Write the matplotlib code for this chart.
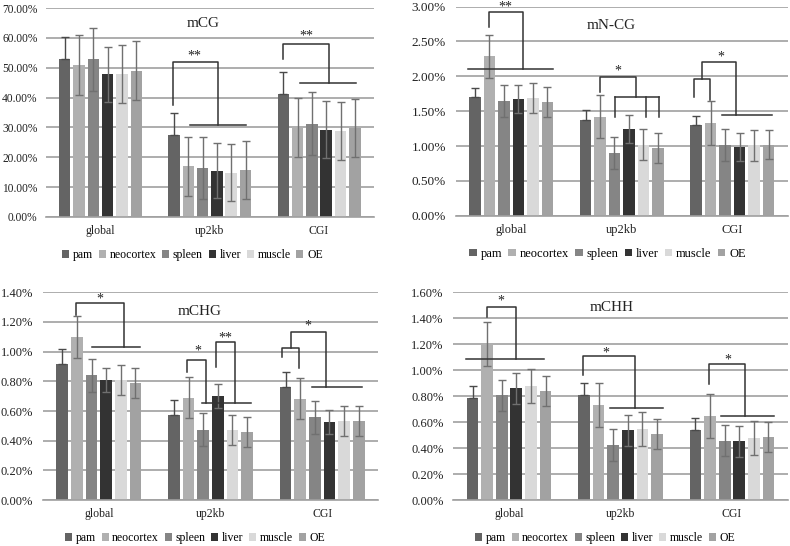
import numpy as np
import matplotlib
matplotlib.use('Agg')
import matplotlib.pyplot as plt
from matplotlib.ticker import FuncFormatter

plt.rcParams['font.family'] = ['Liberation Serif', 'DejaVu Serif']

categories = ['global', 'up2kb', 'CGI']
tissues = ['pam', 'neocortex', 'spleen', 'liver', 'muscle', 'OE']
colors = ['#646464', '#b0b0b0', '#858585', '#333333', '#d9d9d9', '#a2a2a2']

# values in percent, rows = category, columns = tissue
mcg_mean = [[53.0, 50.8, 52.8, 47.8, 48.0, 49.0],
            [27.6, 17.0, 16.3, 15.5, 14.8, 15.7],
            [41.1, 29.9, 31.3, 29.2, 28.8, 29.7]]
mcg_err = [[7.3, 10.0, 10.5, 9.3, 9.7, 9.8],
           [7.3, 9.9, 10.4, 9.3, 9.6, 9.7],
           [7.6, 9.8, 10.5, 9.5, 9.7, 9.7]]

mncg_mean = [[1.71, 2.29, 1.65, 1.67, 1.69, 1.63],
             [1.38, 1.42, 0.90, 1.24, 1.02, 0.97],
             [1.30, 1.33, 1.02, 0.99, 1.01, 1.02]]
mncg_err = [[0.12, 0.31, 0.23, 0.20, 0.22, 0.21],
            [0.13, 0.31, 0.23, 0.20, 0.22, 0.21],
            [0.13, 0.31, 0.23, 0.20, 0.22, 0.21]]

mchg_mean = [[0.92, 1.10, 0.84, 0.81, 0.81, 0.79],
             [0.573, 0.69, 0.475, 0.70, 0.47, 0.46],
             [0.764, 0.683, 0.557, 0.528, 0.533, 0.533]]
mchg_err = [[0.10, 0.14, 0.11, 0.08, 0.10, 0.10],
            [0.10, 0.14, 0.11, 0.08, 0.10, 0.10],
            [0.10, 0.14, 0.11, 0.08, 0.10, 0.10]]

mchh_mean = [[0.787, 1.198, 0.807, 0.86, 0.876, 0.838],
             [0.807, 0.73, 0.423, 0.536, 0.549, 0.505],
             [0.539, 0.646, 0.457, 0.452, 0.474, 0.487]]
mchh_err = [[0.09, 0.17, 0.12, 0.12, 0.13, 0.115],
            [0.09, 0.17, 0.12, 0.12, 0.13, 0.115],
            [0.09, 0.17, 0.12, 0.12, 0.13, 0.115]]

SLOT = 0.131
BAR_W = 0.105
LINE_C = '#333333'


def bx(cat, off):
    return cat + off * SLOT


def bracket(ax, cat, xl, yl, xr, yr, top):
    ax.plot([bx(cat, xl), bx(cat, xl), bx(cat, xr), bx(cat, xr)],
            [yl, top, top, yr], color=LINE_C, lw=1.1, clip_on=False, zorder=5)


def hline(ax, cat, x0, x1, y):
    ax.plot([bx(cat, x0), bx(cat, x1)], [y, y], color=LINE_C, lw=1.1,
            clip_on=False, zorder=5)


def vline(ax, cat, x, y0, y1):
    ax.plot([bx(cat, x), bx(cat, x)], [y0, y1], color=LINE_C, lw=1.1,
            clip_on=False, zorder=5)


def star(ax, cat, x, y, s):
    ax.annotate(s, (bx(cat, x), y), xytext=(0, -2), textcoords='offset points',
                ha='center', va='center', fontsize=10, color='#222222',
                annotation_clip=False, zorder=6)


def panel(fig, rect, mean, err, ymax, ystep, title, title_pos, fs, yfs, ypad, leg_pos):
    ax = fig.add_axes(rect)
    mean = np.array(mean)
    err = np.array(err)
    x = np.arange(len(categories))
    for i, t in enumerate(tissues):
        pos = x + (i - 2.5) * SLOT
        if i == 0:
            yerr = [np.zeros(len(x)), err[:, i]]
            ecol = '#4a4a4a'
        else:
            yerr = err[:, i]
            ecol = '#707070'
        ax.bar(pos, mean[:, i], BAR_W, color=colors[i], label=t, zorder=2,
               yerr=yerr, error_kw=dict(ecolor=ecol, elinewidth=1.0,
                                        capsize=2.8, capthick=1.0, zorder=3))
    ax.set_xlim(-0.5, 2.5)
    ax.set_ylim(0, ymax)
    ax.set_yticks(np.arange(0, ymax + ystep / 2, ystep))
    ax.yaxis.set_major_formatter(FuncFormatter(lambda v, p: f'{v:.2f}%'))
    ax.set_xticks(x)
    ax.set_xticklabels(categories)
    ax.tick_params(length=0, labelsize=fs, colors='#222222')
    ax.tick_params(axis='y', pad=ypad, labelsize=yfs)
    ax.tick_params(axis='x', pad=6)
    ax.grid(axis='y', color='#a0a0a0', lw=1.2, zorder=0)
    ax.set_axisbelow(True)
    for s in ['left', 'right', 'top']:
        ax.spines[s].set_visible(False)
    ax.spines['bottom'].set_color('#a0a0a0')
    ax.spines['bottom'].set_linewidth(1.2)
    ax.text(title_pos[0], title_pos[1], title, transform=ax.transAxes,
            ha='center', va='center', fontsize=11, color='#222222')
    fig.legend(*ax.get_legend_handles_labels(), loc='center',
               bbox_to_anchor=leg_pos, ncol=6, frameon=False, fontsize=fs,
               handlelength=0.6, handleheight=0.6, handletextpad=0.3,
               columnspacing=0.5, borderaxespad=0)
    return ax


fig = plt.figure(figsize=(7.9, 5.46), dpi=100)

# mCG
ax1 = panel(fig, [0.058, 0.6026, 0.415, 0.3827], mcg_mean, mcg_err, 70, 10,
            'mCG', (0.48, 0.928), 8.5, 8.3, 6, (0.2437, 0.533))
bracket(ax1, 1, -2.6, 37.6, 0.6, 30.9, 52.0)
hline(ax1, 1, -1.39, 2.52, 30.9)
star(ax1, 1, -1.05, 54.7, '**')
bracket(ax1, 2, -2.52, 53.0, 0.68, 45.0, 57.9)
hline(ax1, 2, -1.3, 2.6, 45.0)
star(ax1, 2, -0.89, 61.4, '**')

# mN-CG
ax2 = panel(fig, [0.577, 0.605, 0.420, 0.3828], mncg_mean, mncg_err, 3.0, 0.5,
            'mN-CG', (0.467, 0.912), 9, 9.5, 7, (0.769, 0.535))
bracket(ax2, 0, -1.56, 2.71, 0.81, 2.10, 2.93)
hline(ax2, 0, -3.0, 2.86, 2.10)
star(ax2, 0, -0.4, 3.04, '**')
bracket(ax2, 1, -1.47, 1.78, 0.96, 1.708, 1.987)
hline(ax2, 1, -0.49, 2.58, 1.708)
for off in [-0.49, 1.65, 2.58]:
    vline(ax2, 1, off, 1.708, 1.42)
star(ax2, 1, -0.3, 2.115, '*')
bracket(ax2, 2, -2.68, 1.70, -1.54, 1.66, 1.96)
bracket(ax2, 2, -2.1, 1.96, 0.28, 1.445, 2.20)
hline(ax2, 2, -0.68, 2.72, 1.445)
star(ax2, 2, -0.82, 2.31, '*')

# mCHG
ax3 = panel(fig, [0.0544, 0.0842, 0.4241, 0.3804], mchg_mean, mchg_err, 1.4, 0.2,
            'mCHG', (0.469, 0.91), 8.5, 9, 7, (0.247, 0.0147))
bracket(ax3, 0, -1.56, 1.247, 1.73, 1.034, 1.325)
hline(ax3, 0, -0.46, 2.84, 1.034)
star(ax3, 0, 0.06, 1.371, '*')
bracket(ax3, 1, -1.64, 0.865, -0.34, 0.656, 0.942)
bracket(ax3, 1, 0.37, 0.898, 1.68, 0.656, 1.065)
hline(ax3, 1, -0.58, 2.79, 0.656)
star(ax3, 1, -0.86, 1.023, '*')
star(ax3, 1, 1.02, 1.112, '**')
bracket(ax3, 2, -2.74, 0.966, -1.56, 0.89, 1.022)
bracket(ax3, 2, -2.15, 1.022, 0.27, 0.764, 1.135)
hline(ax3, 2, -0.67, 2.72, 0.764)
star(ax3, 2, -0.98, 1.19, '*')

# mCHH
ax4 = panel(fig, [0.5738, 0.0842, 0.4233, 0.381], mchh_mean, mchh_err, 1.6, 0.2,
            'mCHH', (0.474, 0.925), 8.5, 9, 7, (0.766, 0.0147))
bracket(ax4, 0, -1.51, 1.405, 0.48, 1.086, 1.485)
hline(ax4, 0, -2.93, 2.39, 1.086)
star(ax4, 0, -0.53, 1.551, '*')
bracket(ax4, 1, -2.58, 0.958, 1.02, 0.71, 1.11)
hline(ax4, 1, -0.74, 2.89, 0.71)
star(ax4, 1, -0.99, 1.155, '*')
bracket(ax4, 2, -1.57, 0.89, 0.86, 0.65, 1.05)
hline(ax4, 2, -0.77, 2.9, 0.65)
star(ax4, 2, -0.26, 1.097, '*')

fig.savefig('out.png', dpi=100, facecolor='white')
